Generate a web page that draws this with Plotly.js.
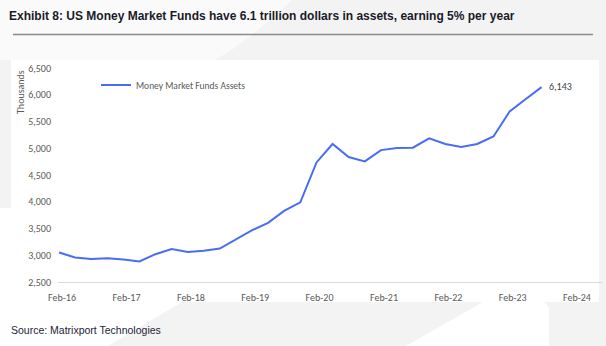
<!DOCTYPE html>
<html>
<head>
<meta charset="utf-8">
<script src="https://cdn.plot.ly/plotly-3.0.1.min.js"></script>
<style>
html,body{margin:0;padding:0;background:#f3f3f3;}
#chart{width:606px;height:346px;}
</style>
</head>
<body>
<div id="chart"></div>
<script>
// ---- data ----
const dates = [
  '2016-01-15','2016-04-15','2016-07-15','2016-10-15',
  '2017-01-15','2017-04-15','2017-07-15','2017-10-15',
  '2018-01-15','2018-04-15','2018-07-15','2018-10-15',
  '2019-01-15','2019-04-15','2019-07-15','2019-10-15',
  '2020-01-15','2020-04-15','2020-07-15','2020-10-15',
  '2021-01-15','2021-04-15','2021-07-15','2021-10-15',
  '2022-01-15','2022-04-15','2022-07-15','2022-10-15',
  '2023-01-15','2023-04-15','2023-07-15'
];
const assets = [
  3050, 2960, 2930, 2945,
  2920, 2885, 3020, 3115,
  3060, 3085, 3125, 3290,
  3470, 3605, 3830, 3990,
  4735, 5080, 4835, 4755,
  4965, 5005, 5010, 5185,
  5080, 5025, 5080, 5220,
  5690, 5915, 6143
];
const tickDates = ['2016-02-01','2017-02-01','2018-02-01','2019-02-01','2020-02-01',
                   '2021-02-01','2022-02-01','2023-02-01','2024-02-01'];
const seriesName = 'Money Market Funds Assets';
const titleText = 'Exhibit 8: US Money Market Funds have 6.1 trillion dollars in assets, earning 5% per year';
const sourceText = 'Source: Matrixport Technologies';
const yTitle = 'Thousands';

// ---- layout helpers (pixel -> paper) ----
const W = 606, H = 346;
const M = {l:58, r:4, t:68, b:64};
const PW = W - M.l - M.r, PH = H - M.t - M.b;
const px = x => (x - M.l) / PW;
const py = y => (H - M.b - y) / PH;

const axisFont = {family:'Carlito, Lato, "Open Sans", sans-serif', size:10, color:'#595959'};

const lastIdx = assets.length - 1;

const trace = {
  x: dates, y: assets, type:'scatter', mode:'lines', name: seriesName,
  line:{color:'#4a6cf4', width:2}, showlegend:true, hoverinfo:'skip'
};

const shapes = [
  // white watermark / chart area pieces
  {type:'rect', xref:'paper', yref:'paper', x0:px(11), x1:px(599), y0:py(60), y1:py(302),
   fillcolor:'#ffffff', line:{width:0}, layer:'below'},
  {type:'rect', xref:'paper', yref:'paper', x0:px(0), x1:px(11), y0:py(208), y1:py(302),
   fillcolor:'#ffffff', line:{width:0}, layer:'below'},
  {type:'path', xref:'paper', yref:'paper', layer:'below', fillcolor:'#ffffff', line:{width:0},
   path:`M${px(0)},${py(302)} L${px(182)},${py(302)} L${px(108)},${py(346)} L${px(0)},${py(346)} Z`},
  {type:'path', xref:'paper', yref:'paper', layer:'below', fillcolor:'#ffffff', line:{width:0},
   path:`M${px(483)},${py(302)} L${px(541)},${py(302)} Q${px(549)},${py(302)} ${px(549)},${py(312)} L${px(549)},${py(346)} L${px(406)},${py(346)} Z`},
  {type:'path', xref:'paper', yref:'paper', layer:'below', fillcolor:'#fafafa', line:{width:0},
   path:`M${px(0)},${py(0)} L${px(292)},${py(0)} Q${px(250)},${py(40)} ${px(215)},${py(60)} L${px(0)},${py(60)} Z`},
  // rule under the title
  {type:'line', xref:'paper', yref:'paper', x0:px(13), x1:px(593), y0:py(34.5), y1:py(34.5),
   line:{color:'#8a8a8a', width:1.5}}
];

const annotations = [
  {xref:'paper', yref:'paper', x:px(20), y:py(92), text:yTitle, showarrow:false,
   textangle:-90, font:{family:axisFont.family, size:10, color:'#595959'},
   xanchor:'center', yanchor:'middle'},
  {x: dates[lastIdx], y: assets[lastIdx], xref:'x', yref:'y',
   text: assets[lastIdx].toLocaleString('en-US'), showarrow:false,
   xanchor:'left', yanchor:'middle', xshift:5, yshift:1,
   font:{family:axisFont.family, size:10, color:'#404040'}},
  {xref:'paper', yref:'paper', x:px(9), y:py(330), text:sourceText, showarrow:false,
   xanchor:'left', yanchor:'middle',
   font:{family:'"Liberation Sans", Arial, sans-serif', size:10.5, color:'#1d1d3a'}}
];

const layout = {
  width: W, height: H,
  margin: M,
  paper_bgcolor:'#f3f3f3',
  plot_bgcolor:'rgba(0,0,0,0)',
  title:{text:'<b>'+titleText+'</b>', xref:'container', yref:'container',
         x:9/W, xanchor:'left', y:1-16/H, yanchor:'middle',
         font:{family:'"Liberation Sans", Arial, sans-serif', size:12, color:'#1a1a2a'}},
  xaxis:{
    type:'date', range:['2016-01-09','2024-06-22'],
    tickvals: tickDates, tickformat:'%b-%y',
    showgrid:false, zeroline:false,
    showline:true, linecolor:'#d9d9d9', linewidth:1,
    ticks:'', ticklabelstandoff:6,
    tickfont: axisFont, fixedrange:true
  },
  yaxis:{
    range:[2500, 6500], dtick:500, tickformat:',d',
    showgrid:false, zeroline:false, showline:false,
    ticks:'', ticklabelstandoff:6,
    tickfont: axisFont, fixedrange:true
  },
  legend:{
    x:px(96), y:py(85), xanchor:'left', yanchor:'middle',
    bgcolor:'rgba(0,0,0,0)', borderwidth:0,
    font:{family:axisFont.family, size:9.5, color:'#595959'},
    itemwidth:30
  },
  shapes: shapes,
  annotations: annotations
};

Plotly.newPlot('chart', [trace], layout, {displayModeBar:false, staticPlot:true});
</script>
</body>
</html>
